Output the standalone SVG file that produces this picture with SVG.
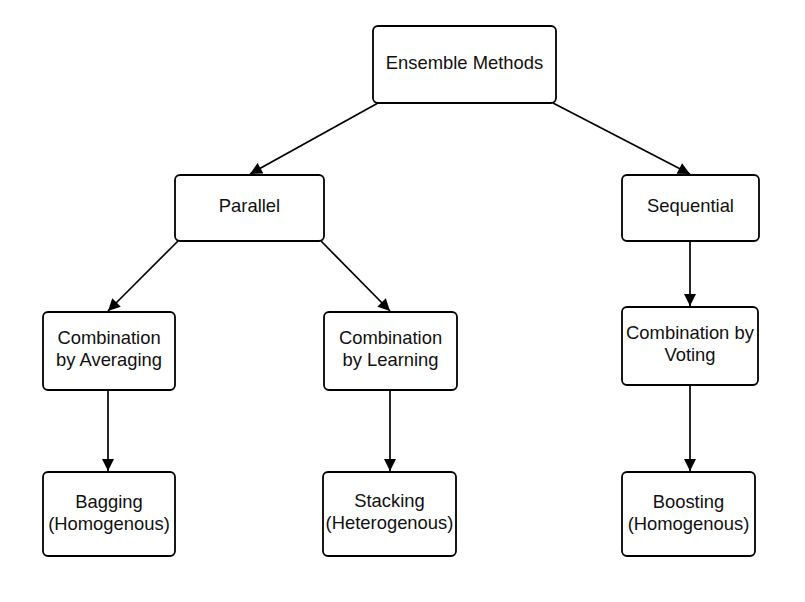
<svg xmlns="http://www.w3.org/2000/svg" width="805" height="602" viewBox="0 0 805 602">
<style>
.n rect{fill:#fff;stroke:#000;stroke-width:1.8}
.n text{font-family:"Liberation Sans",Arial,sans-serif;font-size:18.4px;fill:#111;text-anchor:middle}
#edges line{stroke:#000;stroke-width:1.7;marker-end:url(#ah)}
</style>
<defs>
<marker id="ah" viewBox="0 0 10 10" refX="10" refY="5" markerWidth="14" markerHeight="12" markerUnits="userSpaceOnUse" orient="auto"><path d="M0,0 L10,5 L0,10 z" fill="#000"/></marker>
</defs>
<rect width="805" height="602" fill="#fff"/>
<g id="edges">
<line x1="378" y1="103" x2="250" y2="174"/>
<line x1="553" y1="103" x2="690" y2="174"/>
<line x1="178" y1="241" x2="108" y2="311"/>
<line x1="321" y1="241" x2="390" y2="311"/>
<line x1="690" y1="241" x2="690" y2="306"/>
<line x1="108" y1="390" x2="108" y2="471"/>
<line x1="390" y1="390" x2="390" y2="471"/>
<line x1="690" y1="385" x2="690" y2="471"/>
</g>
<g id="ensemble" class="n"><rect x="373" y="26" width="183" height="77" rx="5"/><text x="464.5" y="69">Ensemble Methods</text></g>
<g id="parallel" class="n"><rect x="175" y="175" width="149" height="66" rx="5"/><text x="249.5" y="212">Parallel</text></g>
<g id="sequential" class="n"><rect x="622" y="175" width="137" height="66" rx="5"/><text x="690.5" y="212">Sequential</text></g>
<g id="averaging" class="n"><rect x="43" y="312" width="132" height="78" rx="5"/><text x="109" y="344">Combination</text><text x="109" y="366">by Averaging</text></g>
<g id="learning" class="n"><rect x="324" y="312" width="133" height="78" rx="5"/><text x="390.5" y="344">Combination</text><text x="390.5" y="366">by Learning</text></g>
<g id="voting" class="n"><rect x="622" y="307" width="136" height="78" rx="5"/><text x="690" y="339">Combination by</text><text x="690" y="361">Voting</text></g>
<g id="bagging" class="n"><rect x="43" y="472" width="132" height="84" rx="5"/><text x="109" y="508">Bagging</text><text x="109" y="530">(Homogenous)</text></g>
<g id="stacking" class="n"><rect x="323" y="472" width="133" height="84" rx="5"/><text x="389.5" y="507">Stacking</text><text x="389.5" y="529">(Heterogenous)</text></g>
<g id="boosting" class="n"><rect x="622" y="472" width="133" height="84" rx="5"/><text x="688.5" y="508">Boosting</text><text x="688.5" y="530">(Homogenous)</text></g>
</svg>
